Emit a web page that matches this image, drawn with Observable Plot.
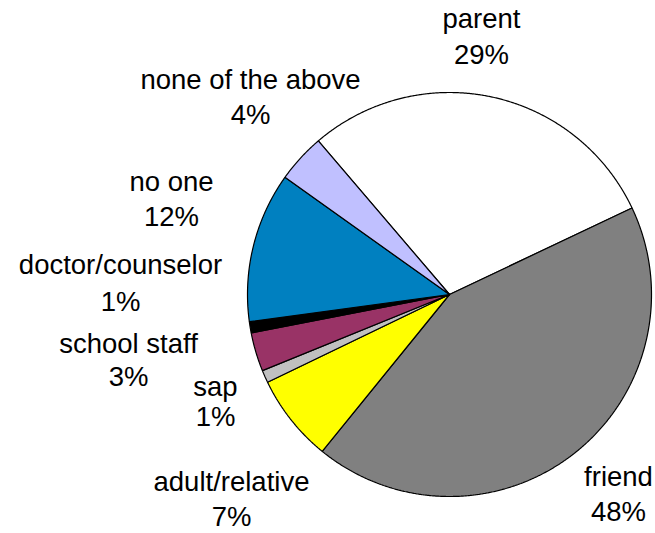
<!DOCTYPE html>
<html><head><meta charset="utf-8">
<script src="https://cdn.jsdelivr.net/npm/d3@7"></script>
<script src="https://cdn.jsdelivr.net/npm/@observablehq/plot@0.6"></script>
<style>html,body{margin:0;padding:0;background:#fff}</style>
</head><body><div id="chart"></div>
<script>
// ---- data ----
const categories = ["parent","friend","adult/relative","sap","school staff","doctor/counselor","no one","none of the above"];
const values = [29.2, 42.9, 7.0, 1.0, 3.1, 0.9, 12.0, 3.9];
const percentLabels = ["29%","48%","7%","1%","3%","1%","12%","4%"];
const colors = ["#FFFFFF","#808080","#FFFF00","#C0C0C0","#993366","#000000","#0080C0","#C0C0FF"];

// ---- layout ----
const W = 655, H = 533, cx = 449, cy = 294, R = 202, startDeg = -40.5;
// [center x, baseline of name, baseline of percent]
const labelPos = [[481,27,63],[618,485,520],[231,490,525],[215,395,425],[128,352,385],[120,273,310],[171,190,225],[250,88,123]];
const FONT = "Liberation Sans, Arial, sans-serif";
const FS = 27.5;

const a0 = startDeg * Math.PI / 180;
const arcs = d3.pie().sort(null).value(d => d.value).startAngle(a0).endAngle(a0 + 2 * Math.PI)(
  categories.map((c, i) => ({category: c, value: values[i], color: colors[i]}))
);
const pts = arcs.flatMap(a => {
  const n = Math.max(4, Math.ceil((a.endAngle - a.startAngle) / 0.005));
  const k = a.data.category, color = a.data.color;
  const out = [{k, color, x: cx, y: cy}];
  for (let j = 0; j <= n; j++) {
    const t = a.startAngle + (a.endAngle - a.startAngle) * j / n;
    out.push({k, color, x: cx + R * Math.sin(t), y: cy - R * Math.cos(t)});
  }
  out.push({k, color, x: cx, y: cy});
  return out;
});
const labels = categories.map((c, i) => ({name: c, pct: percentLabels[i], x: labelPos[i][0], y1: labelPos[i][1], y2: labelPos[i][2]}));

const chart = Plot.plot({
  width: W, height: H, margin: 0,
  x: {domain: [0, W], range: [0, W], axis: null},
  y: {domain: [0, H], range: [0, H], axis: null},
  color: {type: "identity"},
  style: {background: "#fff", fontFamily: FONT},
  marks: [
    Plot.line(pts, {x: "x", y: "y", z: "k", fill: "color", stroke: "#000", strokeWidth: 1.2, strokeLinejoin: "miter"}),
    Plot.text(labels, {x: "x", y: "y1", text: "name", fontSize: FS, fontFamily: FONT, fill: "#000", textAnchor: "middle", lineAnchor: "bottom"}),
    Plot.text(labels, {x: "x", y: "y2", text: "pct", fontSize: FS, fontFamily: FONT, fill: "#000", textAnchor: "middle", lineAnchor: "bottom"})
  ]
});
document.getElementById("chart").appendChild(chart);
</script>
</body></html>
